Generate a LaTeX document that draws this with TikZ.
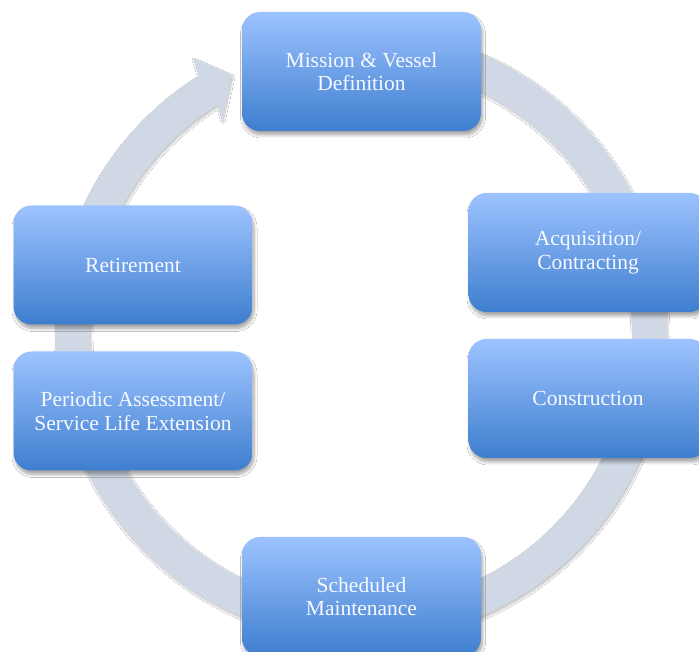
\documentclass[tikz,border=0pt]{standalone}
\usepackage{fontspec}
\setmainfont{Liberation Serif}
\usetikzlibrary{calc,shadows.blur}

\definecolor{boxtop}{RGB}{157,195,255}
\definecolor{boxbot}{RGB}{62,126,207}
\definecolor{ringfill}{RGB}{208,216,230}
\definecolor{boxtext}{RGB}{246,249,255}

\tikzset{
  stagebox/.style={
    rectangle, rounded corners=18pt,
    minimum width=239pt, minimum height=119pt,
    top color=boxtop, bottom color=boxbot, draw=none,
    text=boxtext, align=center,
    font=\fontsize{21.5}{23.5}\selectfont,
    blur shadow={shadow xshift=1.5pt, shadow yshift=-4pt,
                 shadow blur radius=3pt, shadow blur steps=10,
                 shadow opacity=35}
  },
  cyclering/.style={
    fill=ringfill, draw=none,
    blur shadow={shadow xshift=1pt, shadow yshift=-2pt,
                 shadow blur radius=2pt, shadow blur steps=8,
                 shadow opacity=25}
  }
}

\begin{document}
\begin{tikzpicture}[x=1pt,y=1pt]
  \clip (0,0) rectangle (699,652);
  \fill[white] (0,0) rectangle (699,652);

  % circular flow arrow behind the stages
  \coordinate (c) at (361,317);
  \fill[cyclering]
    ($(c)+(90:306)$) arc[start angle=90, end angle=-238, radius=306]
    -- (193,594) -- (232,577) -- (222,532)
    -- ($(c)+(-238:271)$) arc[start angle=-238, end angle=90, radius=271]
    -- cycle;

  % lifecycle stages
  \node[stagebox] (mission)   at (361.5,580.5) {Mission \& Vessel\\Definition};
  \node[stagebox] (acquire)   at (588,399.5)   {Acquisition/\\Contracting};
  \node[stagebox] (construct) at (588,253.5)   {Construction};
  \node[stagebox] (maintain)  at (361.5,55.5)  {Scheduled\\Maintenance};
  \node[stagebox] (assess)    at (133,241)     {Periodic Assessment/\\Service Life Extension};
  \node[stagebox] (retire)    at (133,387)     {Retirement};
\end{tikzpicture}
\end{document}
